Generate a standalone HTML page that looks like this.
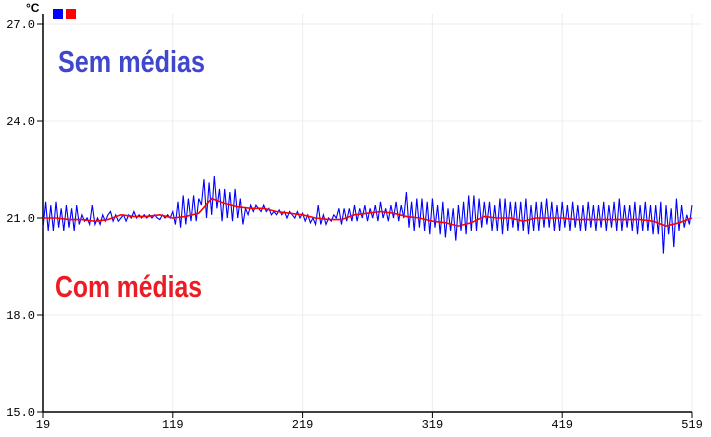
<!DOCTYPE html>
<html><head><meta charset="utf-8"><style>
body{margin:0;background:#fff;width:711px;height:437px;overflow:hidden}
svg{display:block}
.tk{font-family:"Liberation Mono",monospace;font-size:12px;fill:#000}
.big{font-family:"Liberation Sans",sans-serif;font-weight:bold;font-size:31px}
</style></head><body>
<svg id="chart" width="711" height="437"></svg>
<script>
const xTicks=[19,119,219,319,419,519];
const yTicks=[15.0,18.0,21.0,24.0,27.0];
const rawStart=19, rawStep=2;
const rawValues=[20.7,21.5,20.6,21.4,20.6,21.5,20.7,21.3,20.6,21.4,20.7,21.3,20.6,21.4,20.8,21.1,20.9,21.0,20.8,21.4,20.8,
21.0,20.8,21.1,20.9,21.1,21.2,20.9,21.1,20.9,21.0,21.1,20.9,21.1,21.0,21.2,21.0,21.1,21.0,21.1,21.0,
21.1,21.0,21.1,21.0,20.95,21.1,21.0,21.1,21.0,21.2,20.8,21.5,20.7,21.7,20.8,21.6,20.9,21.7,20.9,21.6,
21.4,22.2,21.0,22.1,21.1,22.3,21.3,21.9,20.9,21.9,21.0,21.8,20.9,21.9,21.0,21.6,20.8,21.3,21.1,21.4,
21.2,21.4,21.3,21.2,21.4,21.2,21.3,21.1,21.2,21.1,21.25,21.1,21.2,21.0,21.2,21.1,21.0,21.2,21.0,21.15,
20.9,21.1,20.85,21.0,20.8,21.4,20.8,21.1,20.8,21.0,20.9,21.1,21.0,21.3,20.8,21.3,20.9,21.3,20.9,21.4,
20.9,21.3,21.0,21.4,20.9,21.3,21.0,21.4,20.9,21.5,21.0,21.3,20.9,21.4,21.0,21.5,20.9,21.4,21.0,21.8,
20.7,21.5,20.6,21.6,20.7,21.6,20.6,21.5,20.5,21.6,20.7,21.4,20.5,21.5,20.4,21.3,20.6,21.3,20.3,21.4,
20.6,21.5,20.5,21.7,20.6,21.7,20.6,21.6,20.7,21.5,20.8,21.5,20.6,21.4,20.6,21.6,20.5,21.6,20.6,21.5,
20.7,21.5,20.6,21.5,20.6,21.6,20.5,21.4,20.6,21.5,20.6,21.5,20.7,21.6,20.7,21.5,20.6,21.4,20.6,21.5,
20.7,21.4,20.6,21.5,20.7,21.4,20.6,21.4,20.6,21.5,20.7,21.4,20.6,21.4,20.7,21.5,20.6,21.4,20.7,21.5,
20.6,21.6,20.6,21.4,20.7,21.4,20.6,21.5,20.5,21.4,20.6,21.5,20.6,21.4,20.5,21.4,20.5,21.5,19.9,21.4,
20.5,21.3,20.1,21.6,20.6,21.4,20.7,21.1,20.8,21.4];
const avgStart=19, avgStep=10;
const avgValues=[21.0,21.0,20.95,20.95,20.9,20.95,21.1,21.05,21.05,21.1,21.0,21.05,21.15,21.6,21.45,21.35,21.3,21.3,21.2,21.15,21.1,21.0,20.95,20.95,21.1,21.15,21.2,21.15,21.05,21.0,20.9,20.85,20.75,20.85,21.05,21.0,21.0,20.9,21.0,21.0,21.0,20.95,20.95,20.95,20.95,20.95,20.95,20.9,20.75,20.85,21.0];

const NS="http://www.w3.org/2000/svg";
const svg=document.getElementById('chart');
const X0=43,X1=692,Y0=412,Y1=24;
const xs=v=>X0+(v-19)/(519-19)*(X1-X0);
const ys=v=>Y0-(v-15)/(27-15)*(Y0-Y1);
function mk(t,a,txt){const e=document.createElementNS(NS,t);for(const k in a)e.setAttribute(k,a[k]);if(txt!=null)e.textContent=txt;svg.appendChild(e);return e;}

xTicks.forEach(t=>{
 if(t!==19){const g=mk('line',{x1:xs(t),x2:xs(t),y1:Y1-10,y2:Y0,stroke:'#ececec'});
 
 }
 const tk=mk('line',{x1:xs(t),x2:xs(t),y1:Y0,y2:Y0+6,stroke:'#000'});
 
 
 const l=mk('text',{x:xs(t),y:Y0+16,'text-anchor':'middle',class:'tk'},String(t));
 
 
});
yTicks.forEach(t=>{
 if(t!==15){const g=mk('line',{x1:X0,x2:X1+10,y1:ys(t),y2:ys(t),stroke:'#ececec'});
 
 }
 const tk=mk('line',{x1:X0-6,x2:X0,y1:ys(t),y2:ys(t),stroke:'#000'});
 
 
 const l=mk('text',{x:X0-8,y:ys(t)+4,'text-anchor':'end',class:'tk'},t.toFixed(1));
 
 
});
const ax=mk('path',{d:`M${X0} ${Y1-10}V${Y0}H${X1}`,stroke:'#000',fill:'none','stroke-width':1.5});



const rp=rawValues.map((v,i)=>xs(rawStart+i*rawStep).toFixed(1)+','+ys(v).toFixed(1)).join(' ');
const raw=mk('polyline',{points:rp,fill:'none',stroke:'#0000ff','stroke-width':1.1});


const ap=avgValues.map((v,i)=>xs(avgStart+i*avgStep).toFixed(1)+','+ys(v).toFixed(1)).join(' ');
const avg=mk('polyline',{points:ap,fill:'none',stroke:'#ff0000','stroke-width':1.6});



const u=mk('text',{x:26,y:12,style:'font-family:"Liberation Sans",sans-serif;font-weight:bold;font-size:12px'},'°C');


const l1=mk('rect',{x:53,y:9,width:10,height:10,fill:'#0000ff'});


const l2=mk('rect',{x:66,y:9,width:10,height:10,fill:'#ff0000'});


const s=mk('text',{x:58,y:72,class:'big',fill:'#3f47cc',textLength:147,lengthAdjust:'spacingAndGlyphs'},'Sem médias');


const c=mk('text',{x:55,y:297,class:'big',fill:'#ed1c24',textLength:147,lengthAdjust:'spacingAndGlyphs'},'Com médias');


</script>
</body></html>
